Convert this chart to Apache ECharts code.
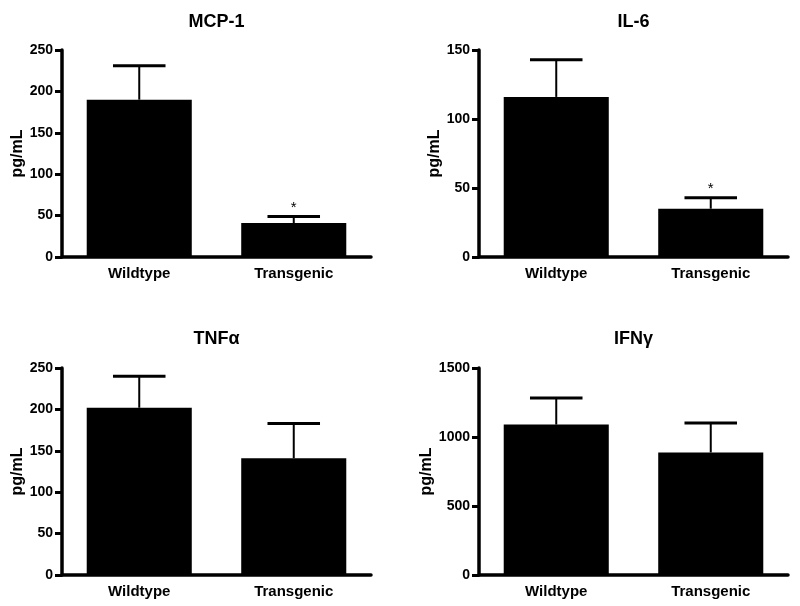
<!DOCTYPE html>
<html>
<head>
<meta charset="utf-8">
<title>Cytokines</title>
<script src="https://cdn.jsdelivr.net/npm/echarts@6/dist/echarts.min.js"></script>
<style>
  html, body { margin: 0; padding: 0; background: #fff; }
  #chart { width: 800px; height: 606px; }
</style>
</head>
<body>
<div id="chart"></div>
<script>
// groups and panels
const groups = ['Wildtype', 'Transgenic']
const panelTitles = ['MCP-1', 'IL-6', 'TNFα', 'IFNγ']

// mean values and SEM
const mcp1Mean = [190, 41]
const mcp1Sem = [41, 8]
const il6Mean = [116, 35]
const il6Sem = [27, 8]
const tnfMean = [202, 141]
const tnfSem = [38, 42]
const ifnMean = [1090, 888]
const ifnSem = [192, 213]

// significance markers
const mcp1Star = ['', '*']
const il6Star = ['', '*']
const tnfStar = ['', '']
const ifnStar = ['', '']

// y axis ranges
const yMax = [250, 150, 250, 1500]
const yStep = [50, 50, 50, 500]

const means = [mcp1Mean, il6Mean, tnfMean, ifnMean]
const sems = [mcp1Sem, il6Sem, tnfSem, ifnSem]
const stars = [mcp1Star, il6Star, tnfStar, ifnStar]

const font = "'Liberation Sans', Arial, sans-serif"
const gridPos = [
  { left: 62, top: 50 },
  { left: 479, top: 50 },
  { left: 62, top: 368 },
  { left: 479, top: 368 }
]
const gridW = 309
const gridH = 207

const chart = echarts.init(document.getElementById('chart'))

function errorBar(params, api) {
  const x = api.value(0)
  const mean = api.value(1)
  const top = mean + api.value(2)
  const star = api.value(3)
  const base = api.coord([x, mean])
  const tip = api.coord([x, top])
  const half = api.size([1, 0])[0] * 0.17
  const children = [
    { type: 'line', shape: { x1: tip[0], y1: base[1], x2: tip[0], y2: tip[1] },
      style: { stroke: '#000', lineWidth: 2 } },
    { type: 'line', shape: { x1: tip[0] - half, y1: tip[1], x2: tip[0] + half, y2: tip[1] },
      style: { stroke: '#000', lineWidth: 3 } }
  ]
  if (star) {
    children.push({
      type: 'text',
      x: tip[0], y: tip[1] - 1,
      style: { text: star, fill: '#000', font: '15px ' + font, align: 'center', verticalAlign: 'bottom' }
    })
  }
  return { type: 'group', children: children }
}

const grids = [], xAxes = [], yAxes = [], titles = [], series = []

panelTitles.forEach((name, i) => {
  grids.push({ left: gridPos[i].left, top: gridPos[i].top, width: gridW, height: gridH })
  titles.push({
    text: name,
    left: gridPos[i].left + gridW / 2,
    top: gridPos[i].top - (i < 2 ? 37 : 38),
    textAlign: 'center',
    padding: 0,
    textStyle: { fontFamily: font, fontSize: 18, fontWeight: 'bold', color: '#000' }
  })
  xAxes.push({
    type: 'category',
    gridIndex: i,
    data: groups,
    axisLine: { lineStyle: { color: '#000', width: 3.5 } },
    axisTick: { alignWithLabel: true, length: 7, lineStyle: { color: '#000', width: 3 } },
    axisLabel: { color: '#000', fontFamily: font, fontSize: 15, fontWeight: 'bold', margin: 9 },
    splitLine: { show: false }
  })
  yAxes.push({
    type: 'value',
    gridIndex: i,
    min: 0,
    max: yMax[i],
    interval: yStep[i],
    name: 'pg/mL',
    nameLocation: 'middle',
    nameGap: i === 3 ? 42 : 36,
    nameTextStyle: { color: '#000', fontFamily: font, fontSize: 16, fontWeight: 'bold' },
    axisLine: { show: true, lineStyle: { color: '#000', width: 3.5 } },
    axisTick: { show: true, length: 7, lineStyle: { color: '#000', width: 3 } },
    axisLabel: {
      color: '#000', fontFamily: font, fontSize: 14, fontWeight: 'bold', margin: 9,
      formatter: v => String(v)
    },
    splitLine: { show: false }
  })
  series.push({
    type: 'bar',
    xAxisIndex: i,
    yAxisIndex: i,
    data: means[i],
    barWidth: '68%',
    itemStyle: { color: '#000' },
    silent: true
  })
  series.push({
    type: 'custom',
    xAxisIndex: i,
    yAxisIndex: i,
    renderItem: errorBar,
    data: means[i].map((m, j) => [j, m, sems[i][j], stars[i][j]]),
    z: 3,
    silent: true
  })
})

chart.setOption({
  animation: false,
  backgroundColor: '#fff',
  title: titles,
  grid: grids,
  xAxis: xAxes,
  yAxis: yAxes,
  series: series
})
</script>
</body>
</html>
